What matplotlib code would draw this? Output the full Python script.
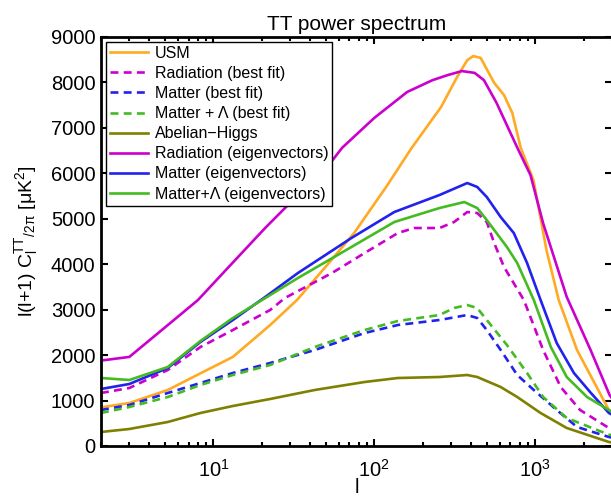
import numpy as np
import matplotlib.pyplot as plt
from matplotlib.ticker import LogLocator, NullFormatter

plt.rcParams['font.family'] = ['Liberation Sans', 'DejaVu Sans']
plt.rcParams['mathtext.fontset'] = 'custom'
plt.rcParams['mathtext.rm'] = 'Liberation Sans'
plt.rcParams['mathtext.it'] = 'Liberation Sans'

# USM
l_usm = [2, 3, 5.2, 8, 13.2, 22.5, 33, 50, 75, 120, 170, 260, 327, 378, 412, 458, 556, 640, 720, 813, 975, 1175, 1400, 1820, 2870, 3000]
v_usm = [850, 946, 1232, 1570, 1960, 2660, 3210, 3950, 4690, 5730, 6550, 7460, 8120, 8490, 8580, 8540, 7990, 7720, 7330, 6560, 5850, 4310, 3210, 2110, 790, 700]

# Radiation (best fit)
l_rad_bf = [2, 3, 5.2, 8.3, 13.2, 22.5, 27.8, 54.5, 87, 140, 177, 254, 313, 378, 436, 500, 556, 640, 850, 1120, 1440, 1900, 2870, 3000]
v_rad_bf = [1166, 1276, 1672, 2178, 2552, 2992, 3256, 3806, 4246, 4686, 4796, 4796, 4928, 5148, 5126, 4928, 4466, 3938, 3212, 2112, 1298, 792, 396, 370]

# Matter (best fit)
l_mat_bf = [2, 3, 5.2, 8.3, 13.2, 22.5, 42.6, 87, 140, 254, 378, 436, 500, 610, 773, 980, 1360, 1820, 2870, 3000]
v_mat_bf = [792, 902, 1166, 1386, 1606, 1826, 2112, 2486, 2662, 2772, 2882, 2816, 2552, 2112, 1562, 1232, 792, 418, 198, 185]

# Matter + Lambda (best fit)
l_ml_bf = [2, 3, 5.2, 8.3, 13.2, 22.5, 42.6, 87, 140, 254, 313, 378, 436, 500, 667, 890, 1120, 1570, 2870, 3000]
v_ml_bf = [726, 858, 1078, 1342, 1562, 1782, 2178, 2552, 2750, 2882, 3036, 3102, 3036, 2772, 2222, 1606, 1078, 616, 250, 235]

# Abelian-Higgs
l_ah = [2, 3, 5.2, 8.3, 13.2, 22.5, 42.6, 87, 140, 254, 378, 436, 610, 773, 1080, 1570, 2870, 3000]
v_ah = [308, 374, 528, 726, 880, 1034, 1232, 1408, 1496, 1518, 1562, 1518, 1298, 1078, 726, 396, 88, 80]

# Radiation (eigenvectors)
l_rad_ev = [2, 3, 5.2, 8, 12, 21, 35, 55, 63, 100, 160, 230, 285, 350, 420, 480, 575, 770, 935, 1120, 1570, 2210, 2900, 3000]
v_rad_ev = [1880, 1960, 2660, 3210, 3880, 4800, 5590, 6290, 6560, 7220, 7790, 8050, 8160, 8250, 8210, 8050, 7550, 6580, 5960, 4900, 3280, 2110, 1120, 1050]

# Matter (eigenvectors)
l_mat_ev = [2, 3, 5.2, 8.3, 13.2, 21, 33.5, 72, 133, 254, 378, 436, 500, 610, 736, 890, 1080, 1360, 1740, 2220, 2870, 3000]
v_mat_ev = [1254, 1364, 1716, 2288, 2772, 3280, 3806, 4576, 5148, 5522, 5786, 5700, 5478, 5038, 4686, 4026, 3212, 2266, 1606, 1166, 726, 690]

# Matter + Lambda (eigenvectors)
l_ml_ev = [2, 3, 5.2, 8.3, 13.2, 21, 33.5, 72, 133, 254, 362, 436, 500, 667, 773, 980, 1250, 1570, 2100, 2870, 3000]
v_ml_ev = [1496, 1452, 1738, 2310, 2816, 3256, 3696, 4378, 4928, 5236, 5368, 5236, 4972, 4378, 4026, 3212, 2178, 1518, 1078, 792, 750]

c_usm = '#FFAA22'
c_mag = '#CC00CC'
c_blue = '#2222EE'
c_green = '#44BB22'
c_olive = '#808000'

fig = plt.figure(figsize=(6.11, 5.01), dpi=100)
ax = fig.add_axes([0.1653, 0.1098, 0.8363, 0.8164])

lw = 1.9
dash = (3, 2)
ax.semilogx(l_usm, v_usm, color=c_usm, lw=lw, label='USM')
ax.semilogx(l_rad_bf, v_rad_bf, color=c_mag, lw=lw, dashes=dash, label='Radiation (best fit)')
ax.semilogx(l_mat_bf, v_mat_bf, color=c_blue, lw=lw, dashes=dash, label='Matter (best fit)')
ax.semilogx(l_ml_bf, v_ml_bf, color=c_green, lw=lw, dashes=dash, label='Matter + Λ (best fit)')
ax.semilogx(l_ah, v_ah, color=c_olive, lw=lw, label='Abelian\u2212Higgs')
ax.semilogx(l_rad_ev, v_rad_ev, color=c_mag, lw=lw, label='Radiation (eigenvectors)')
ax.semilogx(l_mat_ev, v_mat_ev, color=c_blue, lw=lw, label='Matter (eigenvectors)')
ax.semilogx(l_ml_ev, v_ml_ev, color=c_green, lw=lw, label='Matter+Λ (eigenvectors)')

ax.set_xlim(2, 3000)
ax.set_ylim(0, 9000)
ax.set_yticks(np.arange(0, 9001, 1000))
ax.xaxis.set_major_locator(LogLocator(base=10, numticks=10))
ax.xaxis.set_minor_locator(LogLocator(base=10, subs=np.arange(2, 10), numticks=20))
ax.xaxis.set_minor_formatter(NullFormatter())

for s in ax.spines.values():
    s.set_linewidth(2.0)
ax.tick_params(which='both', direction='in', top=True, right=True, labelsize=14.5, width=1.5)
ax.tick_params(which='major', length=5)
ax.tick_params(which='minor', length=3)
ax.tick_params(axis='x', pad=9)
ax.tick_params(axis='y', pad=4)

ax.set_title('TT power spectrum', fontsize=15, pad=5)
ax.set_xlabel('l', fontsize=14.5, labelpad=-2)
ax.set_ylabel('l(l+1) C$_\\mathregular{l}^\\mathregular{TT}{}_\\mathregular{/2π}$ [μK$^\\mathregular{2}$]',
              fontsize=14, labelpad=8)

leg = ax.legend(loc='upper left', fontsize=11.5, frameon=True, fancybox=False, framealpha=1,
                edgecolor='black', handlelength=2.4, handletextpad=0.4, labelspacing=0.32,
                borderpad=0.25, borderaxespad=0.3)
leg.get_frame().set_linewidth(1.0)

fig.savefig('out.png', dpi=100)
